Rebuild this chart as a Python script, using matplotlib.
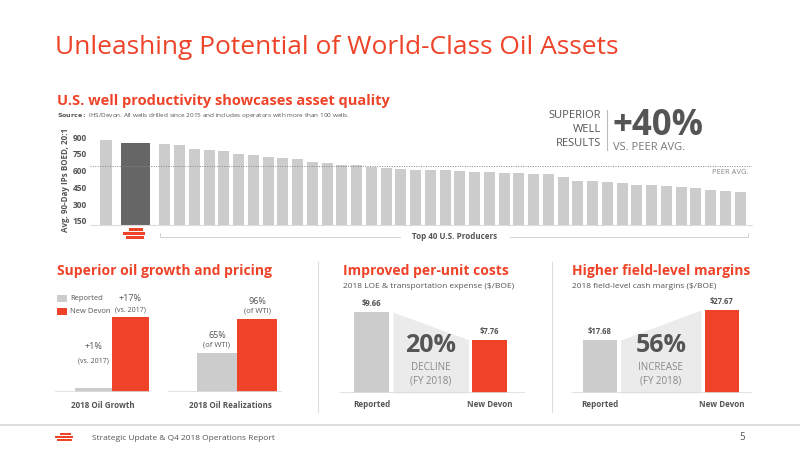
import matplotlib
matplotlib.use("Agg")
import matplotlib.pyplot as plt
from matplotlib.patches import Rectangle
from matplotlib.lines import Line2D

plt.rcParams['font.family'] = ['Open Sans', 'DejaVu Sans']

RED = '#ee4328'
GRAY = '#cccccc'
DARK = '#666666'
TXT = '#555555'

# ---------------- data ----------------
peer_first = [874]
devon_ip = [851]
producers_ip = [837, 828, 793, 784, 773, 747, 741, 721, 712, 707, 681, 669, 652, 652,
                629, 626, 614, 609, 609, 603, 600, 591, 588, 583, 583, 574, 574, 542,
                511, 508, 499, 485, 473, 470, 464, 453, 444, 430, 421, 407]
peer_avg = 640
ip_ticks = [150, 300, 450, 600, 750, 900]

growth_labels = ['Reported', 'New Devon']
growth_vals = [1, 17]
realiz_vals = [65, 96]
cost_vals = [9.66, 7.76]
margin_vals = [17.68, 27.67]

W, H = 800, 450
fig = plt.figure(figsize=(8, 4.5), dpi=100)


def ax_px(x0, y0, x1, y1):
    return fig.add_axes([x0 / W, 1 - y1 / H, (x1 - x0) / W, (y1 - y0) / H])


def ftext(x, y, s, **kw):
    fig.text(x / W, 1 - y / H, s, **kw)


def bare(a):
    for s in a.spines.values():
        s.set_visible(False)
    a.set_xticks([]); a.set_yticks([])
    a.patch.set_alpha(0)


# title
ftext(55, 47, 'Unleashing Potential of World-Class Oil Assets', fontsize=19, color=RED,
      va='center', ha='left')
ftext(57, 101, 'U.S. well productivity showcases asset quality', fontsize=10.5,
      color=RED, weight='bold', va='center')
ftext(57, 116, r'$\bf{Source:}$ IHS/Devon. All wells drilled since 2015 and includes operators with more than 100 wells.',
      fontsize=4.6, color=TXT, va='center')

# ---------------- top chart ----------------
ax = ax_px(90, 134, 752, 225)
ax.bar([0], peer_first, width=0.8, color=GRAY)
ax.bar([2], devon_ip, width=2.0, color=DARK)
ax.bar(list(range(4, 4 + len(producers_ip))), producers_ip, width=0.75, color=GRAY)
ax.axhline(peer_avg, color='#888888', lw=0.7, ls=(0, (1, 1.5)))
ax.set_ylim(114, 927)
ax.set_xlim(-1.08, 43.8)
ax.set_yticks(ip_ticks)
ax.set_yticklabels([str(t) for t in ip_ticks], fontsize=6, color=TXT, weight='bold')
ax.tick_params(axis='y', length=0, pad=2)
ax.set_xticks([])
for s in ['top', 'right', 'left']:
    ax.spines[s].set_visible(False)
ax.spines['bottom'].set_color('#dddddd')
ax.patch.set_alpha(0)
ax.text(43.6, peer_avg - 25, 'PEER AVG.', fontsize=5.5, color='#888888', ha='right', va='top')
ftext(66, 180, 'Avg. 90-Day IPs BOED, 20:1', rotation=90, fontsize=5.8, color=TXT,
      weight='bold', ha='center', va='center')

# callout
for i, s in enumerate(['SUPERIOR', 'WELL', 'RESULTS']):
    ftext(601, 116 + i * 14, s, fontsize=8, color=TXT, ha='right', va='center')
fig.add_artist(Line2D([607 / W, 607 / W], [1 - 110 / H, 1 - 150 / H], color='#bbbbbb', lw=0.8))
ftext(612, 126, '+40%', fontsize=25, color=TXT, weight='bold', ha='left', va='center')
ftext(613, 148, 'VS. PEER AVG.', fontsize=8, color='#777777', ha='left', va='center')


def logo(x, y, s=1.0):
    for dx, dy, w in [(6, 0, 14), (0, 4, 22), (3, 8, 18)]:
        fig.add_artist(Rectangle(((x + dx * s) / W, 1 - (y + dy * s + 2.5 * s) / H),
                                 w * s / W, 2.5 * s / H, color=RED, lw=0))


logo(123, 228)
fig.add_artist(Line2D([160 / W, 160 / W, 400 / W], [1 - 233 / H, 1 - 237 / H, 1 - 237 / H],
                      color='#cccccc', lw=0.6))
fig.add_artist(Line2D([510 / W, 748 / W, 748 / W], [1 - 237 / H, 1 - 237 / H, 1 - 233 / H],
                      color='#cccccc', lw=0.6))
ftext(455, 237, 'Top 40 U.S. Producers', fontsize=5.8, color=TXT, weight='bold',
      ha='center', va='center')

# ---------------- bottom section titles ----------------
ftext(57, 271, 'Superior oil growth and pricing', fontsize=10, color=RED, weight='bold', va='center')
ftext(343, 271, 'Improved per-unit costs', fontsize=10, color=RED, weight='bold', va='center')
ftext(572, 271, 'Higher field-level margins', fontsize=10, color=RED, weight='bold', va='center')
ftext(343, 287, '2018 LOE & transportation expense ($/BOE)', fontsize=6, color=TXT, va='center')
ftext(572, 287, '2018 field-level cash margins ($/BOE)', fontsize=6, color=TXT, va='center')
for xx in (318, 552):
    fig.add_artist(Line2D([xx / W, xx / W], [1 - 262 / H, 1 - 412 / H], color='#dddddd', lw=0.8))

# ---------------- panel 1 ----------------
a1 = ax_px(55, 300, 150, 392)
bare(a1)
a1.bar([0, 1], growth_vals, width=1.0, color=[GRAY, RED])
a1.set_xlim(-1.03, 1.54); a1.set_ylim(0, 20.9)
a1.axhline(0, color='#dddddd', lw=1.2)
a1.text(0, growth_vals[0] + 9.3, '+1%', fontsize=6.5, color=TXT, ha='center', va='center')
a1.text(0, growth_vals[0] + 6.1, '(vs. 2017)', fontsize=5, color=TXT, ha='center', va='center')
a1.text(1, growth_vals[1] + 4.3, '+17%', fontsize=6.5, color=TXT, ha='center', va='center')
a1.text(1, growth_vals[1] + 1.6, '(vs. 2017)', fontsize=5, color=TXT, ha='center', va='center')

a2 = ax_px(168, 300, 282, 392)
bare(a2)
a2.bar([0, 1], realiz_vals, width=1.0, color=[GRAY, RED])
a2.set_xlim(-1.22, 1.62); a2.set_ylim(30, 113)
a2.axhline(30, color='#dddddd', lw=1.2)
for i, v in enumerate(realiz_vals):
    a2.text(i, v + 16, f'{v}%', fontsize=6.5, color=TXT, ha='center', va='center')
    a2.text(i, v + 7.5, '(of WTI)', fontsize=5.5, color=TXT, ha='center', va='center')

ftext(103, 406, '2018 Oil Growth', fontsize=5.8, color=TXT, weight='bold', ha='center', va='center')
ftext(230, 406, '2018 Oil Realizations', fontsize=5.8, color=TXT, weight='bold', ha='center', va='center')
for i, lab in enumerate(growth_labels):
    fig.add_artist(Rectangle((57 / W, 1 - (302 + i * 13) / H), 10 / W, 7 / H,
                             color=[GRAY, RED][i], lw=0))
    ftext(70, 298.5 + i * 13, lab, fontsize=5.5, color=TXT, va='center')


# ---------------- panel 2 / 3 ----------------
def compare(box, vals, ylim, xlim, w, fmt, big, word):
    a = ax_px(*box)
    bare(a)
    x0, x1 = 0 + w / 2, 1 - w / 2
    a.fill_between([x0 + 0.03, x1 - 0.03], [vals[0], vals[1]], ylim[0], color='#ebebeb', lw=0)
    a.bar([0, 1], vals, width=w, color=[GRAY, RED])
    a.set_xlim(*xlim); a.set_ylim(*ylim)
    a.axhline(ylim[0], color='#dddddd', lw=1.2)
    span = ylim[1] - ylim[0]
    for i, v in enumerate(vals):
        a.text(i, v + span * 0.04, fmt.format(v), fontsize=5.5, color=TXT, weight='bold',
               ha='center', va='bottom')
    a.text(0.5, ylim[0] + span * 0.38, big, fontsize=18, weight='bold', color=TXT,
           ha='center', va='bottom')
    a.text(0.5, ylim[0] + span * 0.22, word, fontsize=7, color='#888888', ha='center', va='bottom')
    a.text(0.5, ylim[0] + span * 0.07, '(FY 2018)', fontsize=7, color='#888888', ha='center', va='bottom')
    a.text(0, ylim[0] - span * 0.15, 'Reported', fontsize=5.8, color=TXT, weight='bold', ha='center')
    a.text(1, ylim[0] - span * 0.15, 'New Devon', fontsize=5.8, color=TXT, weight='bold', ha='center')


compare((340, 300, 525, 393), cost_vals, (4.07, 10.5), (-0.27, 1.30), 0.30, '${:.2f}', '20%', 'DECLINE')
compare((572, 300, 752, 393), margin_vals, (0, 31), (-0.23, 1.25), 0.28, '${:.2f}', '56%', 'INCREASE')

# footer
fig.add_artist(Line2D([0, 1], [1 - 425 / H, 1 - 425 / H], color='#dddddd', lw=1.5))
logo(55, 433, 0.8)
ftext(92, 439, 'Strategic Update & Q4 2018 Operations Report', fontsize=6, color=TXT, va='center')
ftext(742, 437, '5', fontsize=7, color=TXT, ha='center', va='center')

fig.savefig('out.png', dpi=100)
